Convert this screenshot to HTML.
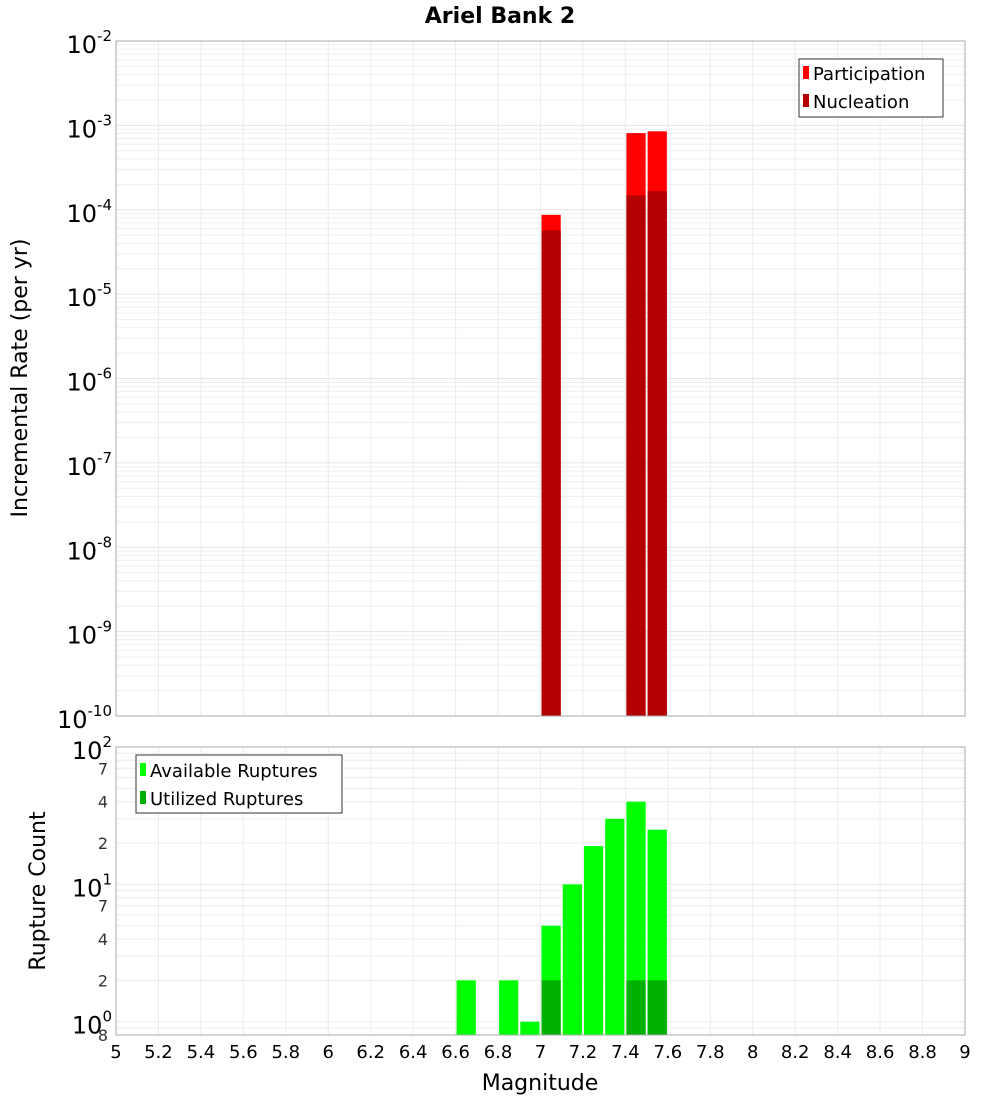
<!DOCTYPE html>
<html><head><meta charset="utf-8"><style>
body{margin:0;background:#fff;font-family:"DejaVu Sans","Liberation Sans",sans-serif}
svg text{font-family:"DejaVu Sans","Liberation Sans",sans-serif}
</style></head><body>
<svg id="c" width="1000" height="1100" xmlns="http://www.w3.org/2000/svg"></svg>
<script>
const mags=[6.65,6.85,6.95,7.05,7.15,7.25,7.35,7.45,7.55];
const partMags=[7.05,7.45,7.55];
const participation=[8.7e-5,8.1e-4,8.5e-4];
const nucleation=[5.7e-5,1.48e-4,1.66e-4];
const available=[2,2,1,5,10,19,30,40,25];
const utilMags=[7.05,7.45,7.55];
const utilized=[2,2,2];
const xTicks=[5,5.2,5.4,5.6,5.8,6,6.2,6.4,6.6,6.8,7,7.2,7.4,7.6,7.8,8,8.2,8.4,8.6,8.8,9];
const topExps=[-10,-9,-8,-7,-6,-5,-4,-3,-2];

const S=document.getElementById('c');const NS='http://www.w3.org/2000/svg';
function el(t,a,p){const e=document.createElementNS(NS,t);for(const k in a)e.setAttribute(k,a[k]);(p||S).appendChild(e);return e;}
const X0=116,X1=965;
const x=v=>X0+(v-5)/4*(X1-X0);
const T0=41,T1=716;
const yT=v=>T1-(Math.log10(v)+10)/8*(T1-T0);
const B0=747,B1=1035;
const yB=v=>B1-(Math.log10(v)-Math.log10(0.8))/(2-Math.log10(0.8))*(B1-B0);

// top panel
let g=el('g',{});
for(let e=-10;e<-2;e++)for(let m=1;m<10;m++){const yy=yT(m*Math.pow(10,e));el('line',{x1:X0,x2:X1,y1:yy,y2:yy,stroke:m==1?'#e4e4e4':'#efefef','stroke-width':1},g);}
xTicks.forEach(t=>el('line',{x1:x(t),x2:x(t),y1:T0,y2:T1,stroke:'#ececec'},g));
partMags.forEach((m,i)=>{
 let r=el('rect',{x:x(m-0.05)+1,y:yT(participation[i]),width:x(0.1+5)-X0-2,height:T1-yT(participation[i]),fill:'#ff0000'},g);
 
 let r2=el('rect',{x:x(m-0.05)+1,y:yT(nucleation[i]),width:x(0.1+5)-X0-2,height:T1-yT(nucleation[i]),fill:'#b30000'},g);
 
});
el('rect',{x:X0,y:T0,width:X1-X0,height:T1-T0,fill:'none',stroke:'#aaa'},g);
topExps.forEach(e=>{const yy=yT(Math.pow(10,e));const t=el('text',{x:112,y:yy+12,'font-size':24,'text-anchor':'end'},g);
 t.innerHTML='10<tspan dy="-12" font-size="15">'+e+'</tspan>';});
// bottom panel
let h=el('g',{});
[0.8,0.9,1,2,3,4,5,6,7,8,9,10,20,30,40,50,60,70,80,90,100].forEach(v=>el('line',{x1:X0,x2:X1,y1:yB(v),y2:yB(v),stroke:'#ececec'},h));
xTicks.forEach(t=>el('line',{x1:x(t),x2:x(t),y1:B0,y2:B1,stroke:'#ececec'},h));
mags.forEach((m,i)=>{let r=el('rect',{x:x(m-0.05)+1,y:yB(available[i]),width:x(5.1)-X0-2,height:B1-yB(available[i]),fill:'#00ff00'},h);
 });
utilMags.forEach((m,i)=>{let r=el('rect',{x:x(m-0.05)+1,y:yB(utilized[i]),width:x(5.1)-X0-2,height:B1-yB(utilized[i]),fill:'#00b000'},h);
 });
el('rect',{x:X0,y:B0,width:X1-X0,height:B1-B0,fill:'none',stroke:'#aaa'},h);
[[100,'2'],[10,'1'],[1,'0']].forEach(([v,e])=>{const t=el('text',{x:112,y:yB(v)+12,'font-size':24,'text-anchor':'end'},h);
 t.innerHTML='10<tspan dy="-12" font-size="15">'+e+'</tspan>';});
[[70,'7'],[40,'4'],[20,'2'],[7,'7'],[4,'4'],[2,'2'],[0.8,'8']].forEach(([v,s])=>{const t=el('text',{x:108,y:yB(v)+6,'font-size':16,'text-anchor':'end',fill:'#333'},h);t.textContent=s;});
xTicks.forEach(t=>{const tx=el('text',{x:x(t),y:1058,'font-size':18,'text-anchor':'middle'});tx.textContent=String(t);
 });
</script>
<svg width="1000" height="1100" style="position:absolute;left:0;top:0" xmlns="http://www.w3.org/2000/svg">
<text x="500" y="23" font-size="22" font-weight="bold" text-anchor="middle">Ariel Bank 2</text>
<text x="540" y="1090" font-size="22" text-anchor="middle">Magnitude</text>
<text transform="translate(27,378) rotate(-90)" font-size="22" text-anchor="middle">Incremental Rate (per yr)</text>
<text transform="translate(45,891) rotate(-90)" font-size="22" text-anchor="middle">Rupture Count</text>
<g>
<rect x="799" y="59" width="144" height="58" fill="#fff" stroke="#333"/>
<rect x="803" y="66" width="6" height="13" fill="#ff0000"/><text x="813" y="80" font-size="18">Participation</text>
<rect x="803" y="94" width="6" height="13" fill="#b30000"/><text x="813" y="108" font-size="18">Nucleation</text>
</g>
<g>
<rect x="136" y="755" width="206" height="58" fill="#fff" stroke="#333"/>
<rect x="140" y="763" width="6" height="13" fill="#00ff00"/><text x="150" y="777" font-size="18">Available Ruptures</text>
<rect x="140" y="791" width="6" height="13" fill="#00b000"/><text x="150" y="805" font-size="18">Utilized Ruptures</text>
</g>
</svg>
</body></html>
